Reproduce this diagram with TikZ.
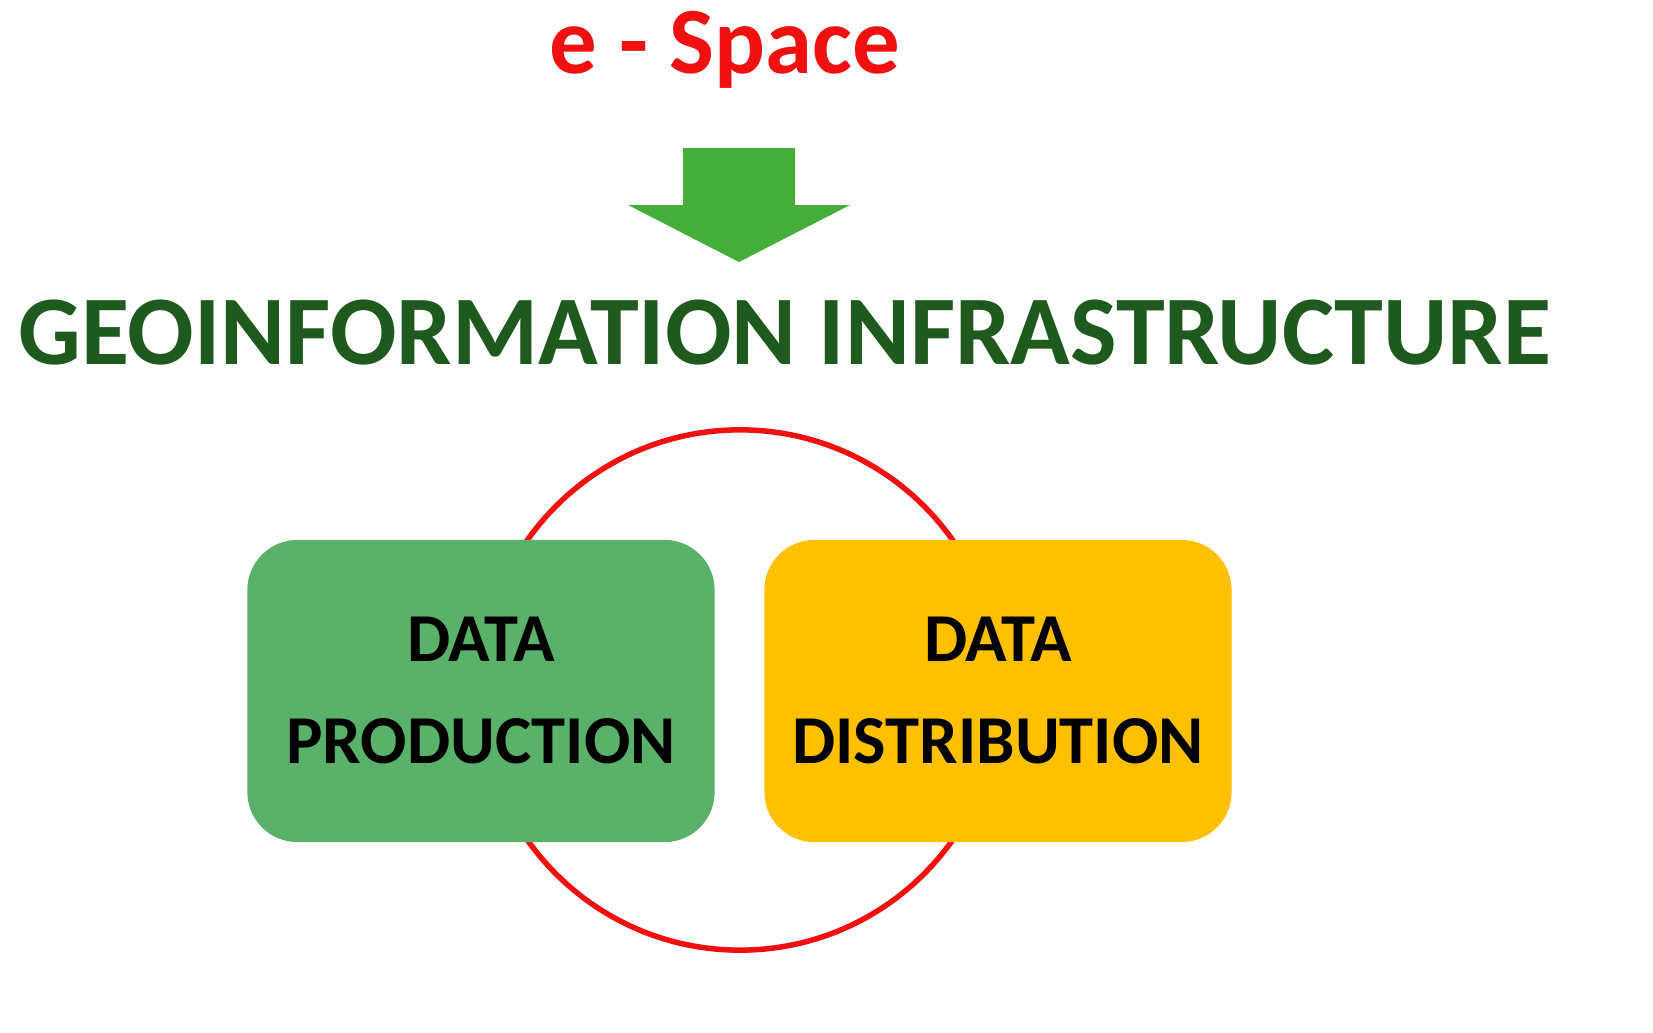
\documentclass[tikz,border=0pt]{standalone}
\usepackage{fontspec}
\setmainfont{Carlito}
\definecolor{espace}{HTML}{F01010}
\definecolor{arrowgreen}{HTML}{45AE3A}
\definecolor{darkgreen}{HTML}{1E5A1E}
\definecolor{boxgreen}{HTML}{5AB16A}
\definecolor{boxyellow}{HTML}{FFC000}
\begin{document}
\begin{tikzpicture}[x=0.01cm,y=-0.01cm,
  box/.style={rounded corners=0.5cm,minimum width=4.67cm,minimum height=3.02cm,align=center,font=\bfseries\fontsize{19.5}{23}\selectfont,inner sep=0pt}]
\useasboundingbox (0,0) rectangle (1653,1033);
\node[text=espace,font=\bfseries\fontsize{27}{31}\selectfont] (title) at (725,50) {e - Space};
\fill[arrowgreen] (683,148) -- (795,148) -- (795,205) -- (850,205) -- (739,262) -- (628,205) -- (683,205) -- cycle;
\node[text=darkgreen,font=\bfseries\fontsize{28}{31}\selectfont] (geo) at (785,333) {GEOINFORMATION INFRASTRUCTURE};
\node[draw=espace,line width=0.055cm,circle,minimum size=5.2cm] (ring) at (740,690) {};
\node[box,fill=boxgreen] (prod) at (481,691) {DATA\\[6pt]PRODUCTION};
\node[box,fill=boxyellow] (dist) at (998,691) {DATA\\[6pt]DISTRIBUTION};
\end{tikzpicture}
\end{document}
